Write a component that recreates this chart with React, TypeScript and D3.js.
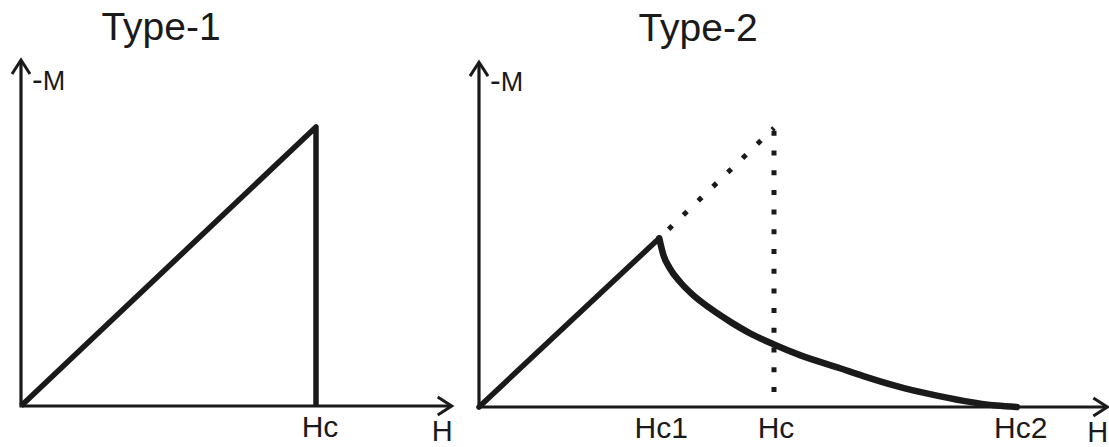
import React from 'react';
import * as d3 from 'd3';

// Type-1: linear -M up to Hc, then a sudden drop
const type1Rise = [
  { h: 0, m: 0 },
  { h: 1, m: 1 },
  { h: 1, m: 0 },
];
const type1Ticks = [{ label: 'Hc', h: 1 }];

// Type-2: linear up to Hc1, then a decaying curve to Hc2
const type2Rise = [
  { h: 0, m: 0 },
  { h: 0.611, m: 0.605 },
];
const type2Decay = [
  { h: 0.611, m: 0.605 },
  { h: 0.625, m: 0.545 },
  { h: 0.647, m: 0.497 },
  { h: 0.681, m: 0.449 },
  { h: 0.726, m: 0.401 },
  { h: 0.783, m: 0.354 },
  { h: 0.851, m: 0.306 },
  { h: 0.919, m: 0.264 },
  { h: 0.998, m: 0.225 },
  { h: 1.088, m: 0.186 },
  { h: 1.224, m: 0.139 },
  { h: 1.303, m: 0.111 },
  { h: 1.416, m: 0.075 },
  { h: 1.529, m: 0.046 },
  { h: 1.642, m: 0.022 },
  { h: 1.755, m: 0.005 },
  { h: 1.823, m: 0 },
];
// the Type-1 behaviour shown dotted for comparison
const type2Dotted = [
  { h: 0.611, m: 0.605 },
  { h: 1, m: 1 },
];
const type2DottedDrop = [
  { h: 1, m: 0.99 },
  { h: 1, m: 0 },
];
const type2Ticks = [
  { label: 'Hc1', h: 0.611 },
  { label: 'Hc', h: 1 },
  { label: 'Hc2', h: 1.823 },
];

const font = '"Liberation Sans", Arial, Helvetica, sans-serif';
const ink = '#1a1a1a';

type Pt = { h: number; m: number };

const Panel = ({ x0, base, hMax, mMax, title, titleX, children }: any) => {
  const x = d3.scaleLinear().domain([0, 1]).range([x0, x0 + 295]);
  const y = d3.scaleLinear().domain([0, 1]).range([base, base - 279]);
  const xEnd = x(hMax);
  const yEnd = y(mMax);
  return (
    <g>
      <text x={titleX} y={base - 366} fontSize={39} textAnchor="middle" fontFamily={font} fill={ink}>
        {title}
      </text>
      {/* axes */}
      <path d={`M${x(0)},${yEnd + 1}V${base}H${xEnd - 1}`} fill="none" stroke={ink} strokeWidth={3.2} />
      <path
        d={`M${x(0) - 9},${yEnd + 14}L${x(0)},${yEnd}L${x(0) + 9},${yEnd + 14}`}
        fill="none"
        stroke={ink}
        strokeWidth={3}
      />
      <path
        d={`M${xEnd - 14},${base - 9}L${xEnd},${base}L${xEnd - 14},${base + 9}`}
        fill="none"
        stroke={ink}
        strokeWidth={3}
      />
      <text x={x(0) + 11} y={base - 316} fontSize={27} fontFamily={font} fill={ink}>
        <tspan fontSize={32}>-</tspan>M
      </text>
      <text x={xEnd - 20} y={base + 35} fontSize={29} fontFamily={font} fill={ink}>
        H
      </text>
      {children(x, y)}
    </g>
  );
};

export default function App() {
  const pathOf = (x: any, y: any, pts: Pt[], curve: any = d3.curveLinear) =>
    d3
      .line<Pt>()
      .x((d) => x(d.h))
      .y((d) => y(d.m))
      .curve(curve)(pts) as string;

  return (
    <svg
      width={1109}
      height={447}
      style={{ position: 'absolute', left: 0, top: 0, background: '#fff' }}
    >
      <Panel x0={21} base={406} hMax={1.46} mMax={1.24} title="Type-1" titleX={161}>
        {(x: any, y: any) => (
          <g>
            <path
              d={pathOf(x, y, type1Rise)}
              fill="none"
              stroke={ink}
              strokeWidth={5.5}
              strokeLinejoin="round"
            />
            {type1Ticks.map((t) => (
              <text key={t.label} x={x(t.h) + 4} y={437} fontSize={30} textAnchor="middle" fontFamily={font} fill={ink}>
                {t.label}
              </text>
            ))}
          </g>
        )}
      </Panel>
      <Panel x0={479} base={407} hMax={2.13} mMax={1.236} title="Type-2" titleX={698}>
        {(x: any, y: any) => (
          <g>
            <path
              d={pathOf(x, y, type2Dotted)}
              fill="none"
              stroke={ink}
              strokeWidth={5}
              strokeDasharray="5 15.5"
              strokeDashoffset={-13}
            />
            <path
              d={pathOf(x, y, type2DottedDrop)}
              fill="none"
              stroke={ink}
              strokeWidth={5}
              strokeDasharray="5 14.7"
            />
            <path
              d={pathOf(x, y, type2Rise)}
              fill="none"
              stroke={ink}
              strokeWidth={5.5}
              strokeLinecap="round"
            />
            <path
              d={pathOf(x, y, type2Decay, d3.curveMonotoneX)}
              fill="none"
              stroke={ink}
              strokeWidth={6.5}
              strokeLinecap="round"
            />
            {type2Ticks.map((t, i) => (
              <text
                key={t.label}
                x={x(t.h) + [2, 2, 4][i]}
                y={438}
                fontSize={30}
                textAnchor="middle"
                fontFamily={font}
                fill={ink}
              >
                {t.label}
              </text>
            ))}
          </g>
        )}
      </Panel>
    </svg>
  );
}
